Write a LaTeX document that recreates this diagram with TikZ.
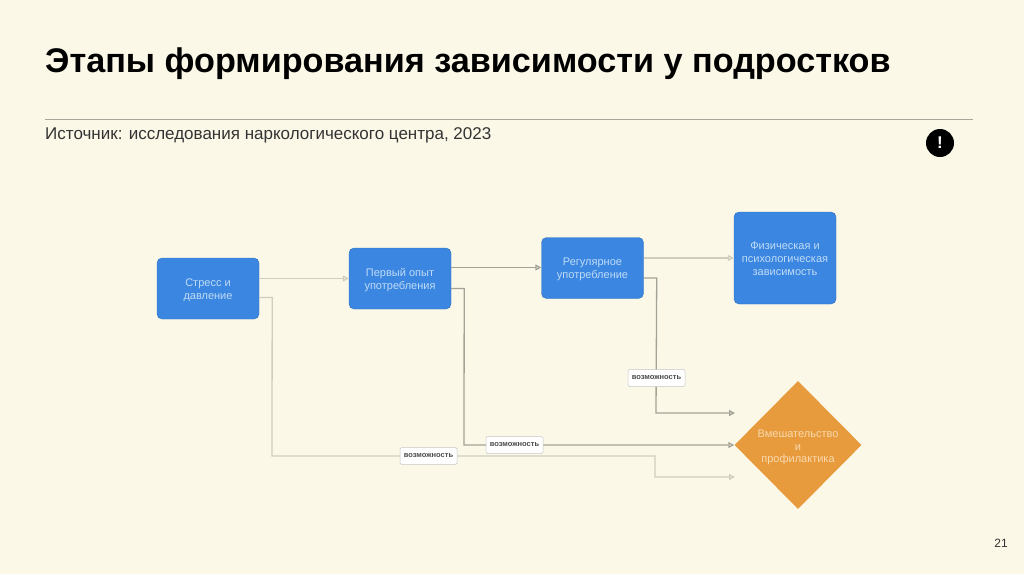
\documentclass[tikz,border=0pt]{standalone}
\usepackage{xcolor}
\usepackage{fontspec}
\setmainfont{Liberation Sans}
\usetikzlibrary{arrows.meta,shapes.geometric}
\definecolor{slidePaper}{HTML}{FBF8E8}
\definecolor{stepBlue}{HTML}{3B86E0}
\definecolor{stepText}{HTML}{BFDCF6}
\definecolor{careOrange}{HTML}{E89B3D}
\definecolor{careText}{HTML}{F8D9AE}
\definecolor{linkPale}{HTML}{CFCDBE}
\definecolor{linkDark}{HTML}{A3A296}
\definecolor{tagInk}{HTML}{4A4A4A}
\definecolor{ruleGrey}{HTML}{A8A79C}
\newcommand{\topgap}[1]{\rule{0pt}{#1pt}}

\begin{document}
\begin{tikzpicture}[
  x=1pt, y=-1pt,
  stage/.style={fill=stepBlue, draw=stepBlue!85!black, line width=0.4pt, rounded corners=5pt,
                align=center, text=stepText, inner sep=1pt,
                font=\fontsize{11}{13}\selectfont,
                minimum width=102pt, minimum height=61pt},
  care/.style={diamond, aspect=1, fill=careOrange, align=center, text=careText, inner sep=0pt,
               font=\fontsize{11}{12.5}\selectfont,
               minimum width=127pt, minimum height=128pt},
  pale/.style={-{Triangle[open,length=6pt,width=6pt]}, line width=1.3pt, linkPale},
  dark/.style={-{Triangle[open,length=6pt,width=6pt]}, line width=1.3pt, linkDark},
  tag/.style={draw=black!22, line width=0.5pt, fill=white, rounded corners=1.5pt, text=tagInk,
              font=\fontsize{7.5}{9}\bfseries\selectfont, inner xsep=2.5pt, inner ysep=0pt,
              minimum width=57pt, minimum height=17pt}
]
  \useasboundingbox[fill=slidePaper] (0,0) rectangle (1024,574);

  \node[anchor=base west, inner sep=0pt, font=\fontsize{34.2}{38}\bfseries\selectfont] (title) at (45,72.5) {Этапы формирования зависимости у подростков};
  \node[anchor=base west, inner sep=0pt, font=\fontsize{17}{19}\selectfont, text=black!80] (source) at (45,139) {Источник: исследования наркологического центра, 2023};
  \coordinate (ruleL) at (45,119.5);
  \coordinate (ruleR) at (973,119.5);
  \draw[ruleGrey, line width=0.8pt] (ruleL) -- (ruleR);
  \node[circle, fill=black, text=white, inner sep=0pt, minimum size=28pt, font=\fontsize{17}{17}\bfseries\selectfont] (alert) at (940,143) {!};
  \node[font=\fontsize{12}{14}\selectfont, text=black!80, inner sep=0pt] (page) at (1001,543) {21};

  \node[stage] (stress) at (208,288.5) {\topgap{11}Стресс и\\давление};
  \node[stage] (first) at (400,278.5) {\topgap{11}Первый опыт\\употребления};
  \node[stage] (regular) at (592.5,268) {\topgap{11}Регулярное\\употребление};
  \node[stage, minimum height=92pt] (depend) at (785,258) {\topgap{10}Физическая и\\психологическая\\зависимость};
  \node[care] (care) at (798,445) {\topgap{13}Вмешательство\\и\\профилактика};

  % free ends beside the diamond
  \coordinate (upperEnd) at (735,413);
  \coordinate (lowerEnd) at (735,477);

  \draw[pale] (stress.east |- first.west) -- (first.west);
  \draw[dark] ([yshift=11pt]first.east) -- ([yshift=11pt]first.east -| regular.west);
  \draw[pale] (regular.east |- depend.west) -- (depend.west);

  \draw[dark] ([yshift=-10pt]regular.east) -- ++(13,0) -- (656,413) -- (upperEnd);
  \draw[dark] ([yshift=-10pt]first.east) -- ++(13,0) -- (464,445) -- (care.west);
  \draw[pale] ([yshift=-9pt]stress.east) -- ++(13,0) -- (272,456) -- (655,456) -- (655,477) -- (lowerEnd);

  \node[tag] (chanceA) at (656.5,378) {возможность};
  \node[tag] (chanceB) at (514.5,445) {возможность};
  \node[tag] (chanceC) at (428.5,456) {возможность};
\end{tikzpicture}
\end{document}
